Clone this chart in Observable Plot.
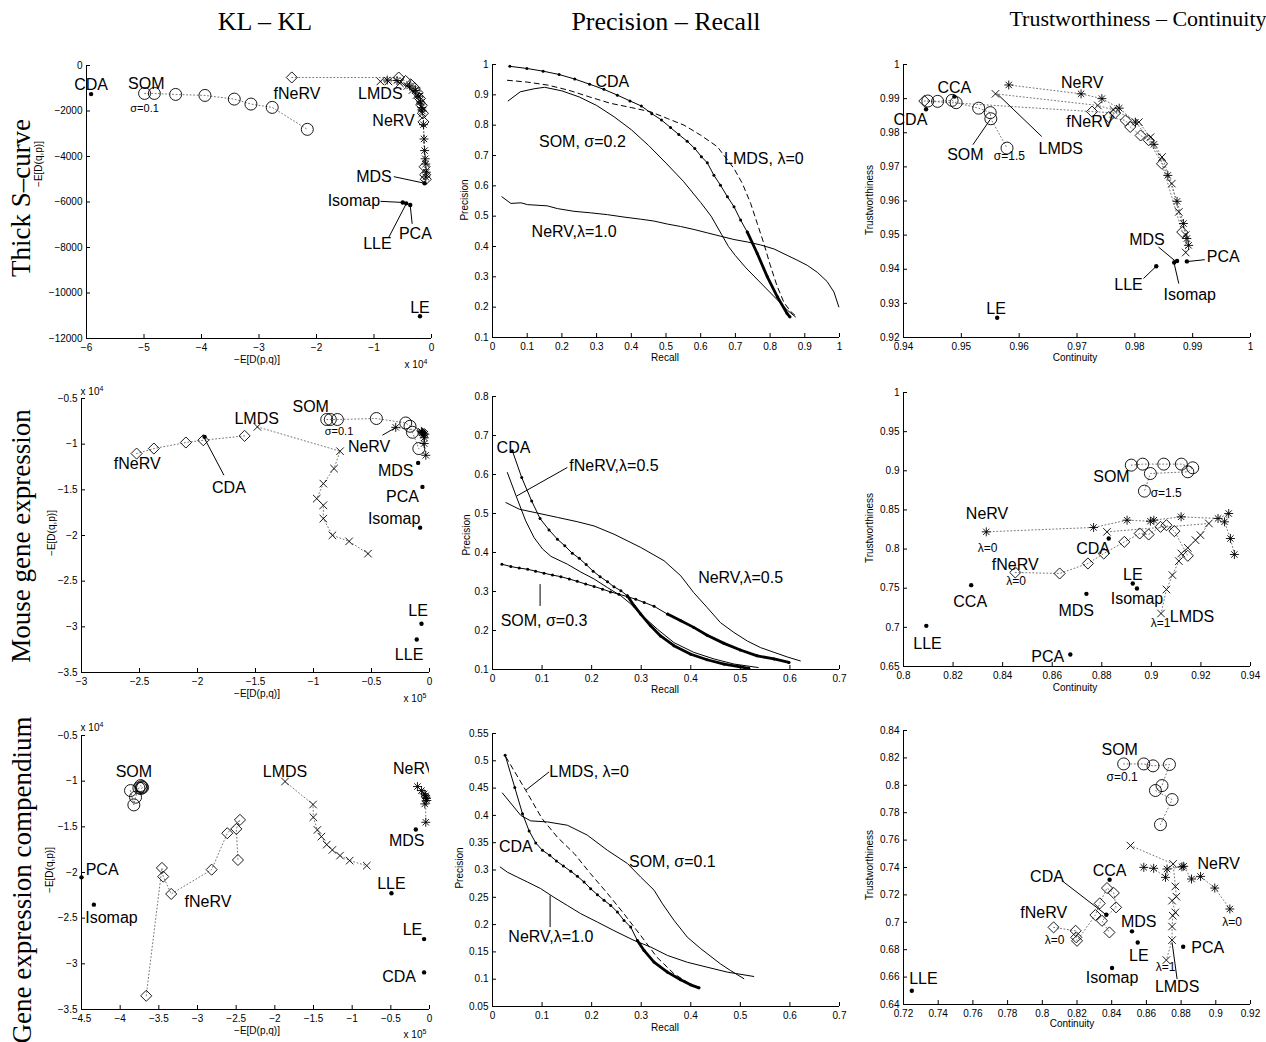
<!DOCTYPE html>
<html><head><meta charset="utf-8">
<script src="https://cdn.jsdelivr.net/npm/d3@7"></script>
<script src="https://cdn.jsdelivr.net/npm/@observablehq/plot@0.6"></script>
<style>
body{margin:0;background:#fff;}
#root{position:relative;width:1266px;height:1042px;overflow:hidden;background:#fff;font-family:"Liberation Sans",Arial,Helvetica,sans-serif;color:#000;}
.lbl{position:absolute;white-space:nowrap;line-height:1;}
.lbl sup{font-size:0.7em;vertical-align:0.5em;}
</style></head>
<body><div id="root"></div>
<script>
// ---------- column / row titles ----------
const columnTitles = ["KL \u2013 KL", "Precision \u2013 Recall", "Trustworthiness \u2013 Continuity"];
const rowTitles = ["Thick S\u2013curve", "Mouse gene expression", "Gene expression compendium"];

// ---------- Row 1: Thick S-curve ----------
const kl1_xTicks = [-6, -5, -4, -3, -2, -1, 0];
const kl1_yTicks = [-12000, -10000, -8000, -6000, -4000, -2000, 0];
const kl1_SOM = [[-4.99,-1228],[-4.82,-1228],[-4.45,-1272],[-3.94,-1316],[-3.43,-1477],[-3.14,-1696],[-2.77,-1842],[-2.16,-2807]];
const kl1_fNeRV = [[-2.43,-526],[-0.57,-530],[-0.45,-680],[-0.36,-830],[-0.29,-1000],[-0.24,-1200],[-0.2,-1450],[-0.17,-1750],[-0.15,-2100],[-0.14,-2480],[-0.12,-4450],[-0.11,-4800],[-0.1,-5000]];
const kl1_NeRV = [[-0.77,-640],[-0.6,-660],[-0.38,-900],[-0.28,-1100],[-0.22,-1350],[-0.19,-1600],[-0.17,-1850],[-0.16,-2000],[-0.14,-2600],[-0.13,-3230],[-0.12,-3740],[-0.11,-4100],[-0.1,-4330],[-0.09,-4690],[-0.1,-4900]];
const kl1_LMDS = [[-0.89,-700],[-0.75,-700],[-0.55,-780],[-0.42,-900],[-0.33,-1080],[-0.26,-1300],[-0.21,-1550],[-0.18,-1800],[-0.16,-2100]];
const kl1_single = [["CDA",-5.92,-1257],["MDS",-0.12,-5175],["Isomap",-0.50,-6020],["LLE",-0.44,-6060],["PCA",-0.37,-6130],["LE",-0.2,-11020]];
const kl1_labels = [["CDA",-5.92,-860],["SOM",-4.96,-817],["fNeRV",-2.34,-1229],["LMDS",-0.89,-1229],["NeRV",-0.66,-2428],["MDS",-1.0,-4886],["Isomap",-1.35,-5970],["LLE",-0.94,-7840],["PCA",-0.28,-7401],["LE",-0.2,-10667]];
const kl1_small = [["\u03c3=0.1",-4.99,-1870]];
const kl1_leaders = [[-0.656,-4886,-0.12,-5175],[-0.887,-5970,-0.5,-6020],[-0.742,-7550,-0.44,-6080],[-0.336,-6962,-0.37,-6150]];

const pr1_xTicks = [0,0.1,0.2,0.3,0.4,0.5,0.6,0.7,0.8,0.9,1];
const pr1_yTicks = [0.1,0.2,0.3,0.4,0.5,0.6,0.7,0.8,0.9,1];
const pr1_CDA = [[0.050,0.994],[0.099,0.987],[0.146,0.978],[0.192,0.967],[0.237,0.952],[0.280,0.935],[0.321,0.918],[0.360,0.899],[0.396,0.880],[0.429,0.863],[0.459,0.838],[0.487,0.817],[0.513,0.792],[0.537,0.769],[0.561,0.747],[0.583,0.723],[0.602,0.696],[0.619,0.676],[0.638,0.635],[0.657,0.602],[0.677,0.564],[0.696,0.531],[0.715,0.487],[0.734,0.448],[0.763,0.377],[0.792,0.300],[0.821,0.234],[0.849,0.179],[0.857,0.168]];
const pr1_LMDS = [[0.043,0.948],[0.10,0.942],[0.16,0.932],[0.22,0.915],[0.28,0.893],[0.34,0.872],[0.40,0.858],[0.456,0.844],[0.504,0.822],[0.552,0.80],[0.60,0.767],[0.648,0.729],[0.696,0.657],[0.72,0.608],[0.744,0.542],[0.763,0.476],[0.782,0.41],[0.80,0.34],[0.82,0.27],[0.84,0.215],[0.86,0.185],[0.875,0.17]];
const pr1_SOM = [[0.045,0.88],[0.08,0.91],[0.12,0.92],[0.15,0.925],[0.20,0.913],[0.25,0.893],[0.30,0.865],[0.35,0.828],[0.40,0.785],[0.45,0.733],[0.50,0.675],[0.55,0.615],[0.60,0.545],[0.63,0.50],[0.66,0.44],[0.68,0.40],[0.70,0.37],[0.73,0.33],[0.79,0.26],[0.85,0.19],[0.873,0.168]];
const pr1_NeRV = [[0.027,0.564],[0.053,0.542],[0.082,0.544],[0.101,0.538],[0.158,0.534],[0.187,0.525],[0.235,0.516],[0.283,0.511],[0.331,0.505],[0.379,0.497],[0.427,0.49],[0.465,0.484],[0.504,0.474],[0.542,0.466],[0.581,0.456],[0.619,0.445],[0.657,0.434],[0.696,0.423],[0.734,0.415],[0.773,0.405],[0.811,0.392],[0.849,0.371],[0.878,0.355],[0.907,0.338],[0.936,0.315],[0.964,0.285],[0.984,0.25],[0.998,0.201]];
const pr1_labels = [["CDA",0.3455,0.9426],["SOM, \u03c3=0.2",0.259,0.745],["LMDS, \u03bb=0",0.782,0.690],["NeRV,\u03bb=1.0",0.235,0.448]];

const tc1_xTicks = [0.94,0.95,0.96,0.97,0.98,0.99,1];
const tc1_yTicks = [0.92,0.93,0.94,0.95,0.96,0.97,0.98,0.99,1];
const tc1_SOM = [[0.9442,0.9893],[0.9459,0.9892],[0.9484,0.9895],[0.9491,0.9888],[0.9530,0.9872],[0.9550,0.9859],[0.9551,0.9841],[0.9579,0.9755]];
const tc1_fNeRV = [[0.9436,0.9893],[0.9726,0.9862],[0.9766,0.9858],[0.9755,0.9846],[0.9784,0.9836],[0.9792,0.9817],[0.9810,0.9792],[0.9824,0.9778],[0.9847,0.9709],[0.9882,0.9509]];
const tc1_NeRV = [[0.9582,0.9940],[0.9707,0.9914],[0.9743,0.9900],[0.9773,0.9872],[0.9801,0.9831],[0.9833,0.9766],[0.9857,0.9675],[0.9873,0.9599],[0.9884,0.9534],[0.9890,0.9490],[0.9893,0.9470]];
const tc1_LMDS = [[0.9559,0.9914],[0.9736,0.9880],[0.9763,0.9867],[0.9807,0.9831],[0.9827,0.9787],[0.9847,0.9729],[0.9864,0.9651],[0.9876,0.9568],[0.9888,0.9500],[0.9888,0.9449]];
const tc1_single = [["CDA",0.9439,0.9869],["CCA",0.9488,0.9906],["MDS",0.9873,0.9424],["Isomap",0.9868,0.9420],["PCA",0.9890,0.9423],["LLE",0.9837,0.9409],["LE",0.9562,0.9258]];
const tc1_labels = [["CDA",0.9412,0.9838],["CCA",0.9488,0.9932],["SOM",0.9507,0.9734],["LMDS",0.9672,0.9753],["NeRV",0.9709,0.9945],["fNeRV",0.9722,0.9831],["MDS",0.9821,0.9487],["PCA",0.9953,0.9436],["LLE",0.9789,0.9353],["Isomap",0.9895,0.9324],["LE",0.9560,0.9285]];
const tc1_small = [["\u03c3=1.5",0.9583,0.9731]];
const tc1_leaders = [[0.9520,0.9765,0.9550,0.9839],[0.9639,0.9789,0.9562,0.9914],[0.9841,0.9465,0.9870,0.9424],[0.9921,0.9428,0.9893,0.9423],[0.9815,0.9373,0.9836,0.9407],[0.9876,0.9358,0.9868,0.9417]];

// ---------- Row 2: Mouse gene expression ----------
const kl2_xTicks = [-3,-2.5,-2,-1.5,-1,-0.5,0];
const kl2_yTicks = [-3.5,-3,-2.5,-2,-1.5,-1,-0.5];
const kl2_fNeRV = [[-2.525,-1.103],[-2.376,-1.048],[-2.10,-0.982],[-1.95,-0.957],[-1.594,-0.909]];
const kl2_LMDS = [[-1.484,-0.811],[-0.771,-1.077],[-0.823,-1.267],[-0.915,-1.432],[-0.972,-1.596],[-0.915,-1.669],[-0.915,-1.815],[-0.837,-1.998],[-0.693,-2.064],[-0.530,-2.199]];
const kl2_SOM = [[-0.886,-0.730],[-0.855,-0.730],[-0.794,-0.730],[-0.458,-0.719],[-0.205,-0.768],[-0.168,-0.804],[-0.147,-0.870],[-0.092,-1.048]];
const kl2_NeRV = [[-0.291,-0.816],[-0.07,-0.86],[-0.06,-0.87],[-0.065,-0.875],[-0.05,-0.88],[-0.04,-0.89],[-0.05,-0.90],[-0.045,-0.93],[-0.046,-0.993],[-0.032,-1.122]];
const kl2_single = [["CDA",-1.939,-0.920],["MDS",-0.098,-1.205],["PCA",-0.061,-1.468],["Isomap",-0.081,-1.914],["LE",-0.069,-2.966],["LLE",-0.11,-3.138]];
const kl2_labels = [["fNeRV",-2.52,-1.22],["CDA",-1.729,-1.479],["LMDS",-1.49,-0.719],["SOM",-1.024,-0.591],["NeRV",-0.521,-1.030],["MDS",-0.291,-1.297],["PCA",-0.233,-1.578],["Isomap",-0.305,-1.823],["LE",-0.098,-2.820],["LLE",-0.176,-3.306]];
const kl2_small = [["\u03c3=0.1",-0.78,-0.865]];
const kl2_leaders = [[-1.772,-1.340,-1.939,-0.938],[-0.406,-0.902,-0.291,-0.818]];

const pr2_xTicks = [0,0.1,0.2,0.3,0.4,0.5,0.6,0.7];
const pr2_yTicks = [0.1,0.2,0.3,0.4,0.5,0.6,0.7,0.8];
const pr2_CDA = [[0.040,0.661],[0.059,0.592],[0.079,0.532],[0.096,0.487],[0.114,0.458],[0.131,0.434],[0.146,0.417],[0.161,0.398],[0.175,0.385],[0.189,0.369],[0.203,0.352],[0.217,0.338],[0.232,0.325],[0.245,0.312],[0.259,0.302],[0.272,0.289],[0.286,0.263],[0.299,0.242],[0.319,0.212],[0.339,0.186],[0.366,0.161],[0.400,0.139],[0.433,0.125],[0.467,0.114],[0.500,0.107],[0.517,0.103]];
const pr2_fNeRV = [[0.030,0.605],[0.050,0.537],[0.067,0.481],[0.084,0.438],[0.101,0.409],[0.118,0.390],[0.151,0.370],[0.178,0.350],[0.205,0.332],[0.232,0.310],[0.259,0.289],[0.279,0.268],[0.299,0.242],[0.333,0.203],[0.366,0.169],[0.406,0.144],[0.447,0.127],[0.487,0.114],[0.536,0.105]];
const pr2_NeRV = [[0.027,0.528],[0.054,0.511],[0.091,0.501],[0.131,0.490],[0.171,0.479],[0.205,0.468],[0.245,0.447],[0.299,0.413],[0.346,0.379],[0.380,0.340],[0.406,0.297],[0.433,0.259],[0.460,0.220],[0.487,0.195],[0.514,0.173],[0.541,0.156],[0.568,0.144],[0.595,0.132],[0.621,0.122]];
const pr2_SOM = [[0.019,0.370],[0.037,0.364],[0.054,0.360],[0.071,0.357],[0.087,0.352],[0.104,0.347],[0.121,0.342],[0.138,0.338],[0.155,0.332],[0.171,0.326],[0.188,0.319],[0.205,0.313],[0.222,0.306],[0.238,0.299],[0.255,0.293],[0.272,0.287],[0.289,0.280],[0.306,0.272],[0.326,0.262],[0.353,0.242],[0.380,0.225],[0.406,0.208],[0.433,0.188],[0.467,0.167],[0.500,0.150],[0.534,0.135],[0.568,0.127],[0.598,0.118]];
const pr2_labels = [["CDA",0.0423,0.669],["fNeRV,\u03bb=0.5",0.245,0.622],["NeRV,\u03bb=0.5",0.5005,0.336],["SOM, \u03c3=0.3",0.104,0.225]];
const pr2_leaders = [[0.151,0.618,0.049,0.545],[0.096,0.319,0.096,0.263]];

const tc2_xTicks = [0.8,0.82,0.84,0.86,0.88,0.9,0.92,0.94];
const tc2_yTicks = [0.65,0.7,0.75,0.8,0.85,0.9,0.95,1];
const tc2_SOM = [[0.8919,0.9072],[0.8965,0.9085],[0.9050,0.9085],[0.9121,0.9085],[0.9167,0.9038],[0.9147,0.8987],[0.8996,0.8965],[0.8972,0.8740]];
const tc2_NeRV = [[0.8334,0.822],[0.8767,0.8276],[0.8902,0.8369],[0.8996,0.8356],[0.9010,0.8369],[0.9120,0.8412],[0.9269,0.8391],[0.9312,0.8454],[0.9295,0.8348],[0.9319,0.8135],[0.9335,0.7931]];
const tc2_fNeRV = [[0.8451,0.7701],[0.8630,0.7688],[0.8744,0.7816],[0.8808,0.7943],[0.8891,0.8092],[0.8953,0.8199],[0.8989,0.8186],[0.9037,0.8284],[0.9061,0.8305],[0.9093,0.8229],[0.9147,0.7914]];
const tc2_LMDS = [[0.8821,0.822],[0.9232,0.8327],[0.9198,0.8178],[0.9178,0.8114],[0.9147,0.8016],[0.9121,0.7944],[0.9111,0.7846],[0.9085,0.7667],[0.9061,0.7484],[0.9039,0.7177]];
const tc2_single = [["CDA",0.8828,0.8135],["LE",0.8925,0.7560],["Isomap",0.8942,0.7496],["MDS",0.8738,0.7428],["CCA",0.8273,0.7539],["LLE",0.8092,0.7019],["PCA",0.8673,0.6653]];
const tc2_labels = [["SOM",0.8839,0.8923],["NeRV",0.8337,0.8454],["CDA",0.8765,0.8007],["fNeRV",0.8451,0.7803],["LE",0.8925,0.7675],["Isomap",0.8942,0.7369],["MDS",0.8697,0.7207],["CCA",0.8269,0.7326],["LLE",0.8097,0.6794],["PCA",0.8582,0.6619],["LMDS",0.9164,0.7134]];
const tc2_small = [["\u03c3=1.5",0.9060,0.8710],["\u03bb=0",0.8339,0.8007],["\u03bb=0",0.8454,0.7590],["\u03bb=1",0.9037,0.7049]];

// ---------- Row 3: Gene expression compendium ----------
const kl3_xTicks = [-4.5,-4,-3.5,-3,-2.5,-2,-1.5,-1,-0.5,0];
const kl3_yTicks = [-3.5,-3,-2.5,-2,-1.5,-1,-0.5];
const kl3_SOM = [[-3.866,-1.103],[-3.823,-1.260],[-3.801,-1.176],[-3.758,-1.074],[-3.736,-1.048],[-3.72,-1.06],[-3.71,-1.07],[-3.73,-1.08]];
const kl3_fNeRV = [[-3.663,-3.350],[-3.46,-1.95],[-3.443,-2.045],[-3.34,-2.235],[-2.817,-1.969],[-2.615,-1.570],[-2.451,-1.424],[-2.498,-1.523],[-2.477,-1.863]];
const kl3_LMDS = [[-1.868,-1.004],[-1.506,-1.256],[-1.502,-1.395],[-1.45,-1.534],[-1.398,-1.607],[-1.329,-1.695],[-1.256,-1.753],[-1.157,-1.815],[-1.032,-1.870],[-0.811,-1.925]];
const kl3_NeRV = [[-0.156,-1.059],[-0.104,-1.103],[-0.070,-1.139],[-0.048,-1.176],[-0.035,-1.212],[-0.061,-1.249],[-0.04,-1.19],[-0.05,-1.16],[-0.048,-1.450]];
const kl3_single = [["PCA",-4.5,-2.053],["Isomap",-4.34,-2.352],["MDS",-0.177,-1.530],["LLE",-0.492,-2.228],["LE",-0.070,-2.729],["CDA",-0.070,-3.094]];
const kl3_labels = [["SOM",-3.823,-0.902],["LMDS",-1.868,-0.902],["PCA",-4.233,-1.972],["Isomap",-4.112,-2.499],["fNeRV",-2.865,-2.327],["MDS",-0.294,-1.658],["LLE",-0.492,-2.126],["LE",-0.220,-2.630],["CDA",-0.393,-3.142]];
const kl3_clipped = [["NeRV",-0.199,-0.865]];

const pr3_xTicks = [0,0.1,0.2,0.3,0.4,0.5,0.6,0.7];
const pr3_yTicks = [0.05,0.1,0.15,0.2,0.25,0.3,0.35,0.4,0.45,0.5,0.55];
const pr3_CDA = [[0.0255,0.5103],[0.045,0.451],[0.0605,0.403],[0.0739,0.3715],[0.0873,0.3495],[0.1008,0.336],[0.1155,0.3269],[0.129,0.3165],[0.143,0.3073],[0.158,0.2976],[0.1713,0.2884],[0.1847,0.278],[0.198,0.2658],[0.2116,0.2548],[0.225,0.2444],[0.2385,0.2352],[0.2519,0.223],[0.2653,0.2077],[0.2788,0.1955],[0.2922,0.171],[0.3057,0.1527],[0.3258,0.1313],[0.3527,0.113],[0.3795,0.0989],[0.3997,0.0897],[0.4165,0.0842]];
const pr3_LMDS = [[0.027,0.507],[0.067,0.446],[0.1,0.394],[0.131,0.36],[0.165,0.33],[0.198,0.293],[0.232,0.257],[0.265,0.22],[0.299,0.18],[0.332,0.14],[0.366,0.11],[0.406,0.087]];
const pr3_SOM = [[0.020,0.441],[0.057,0.400],[0.077,0.390],[0.111,0.388],[0.151,0.382],[0.191,0.364],[0.232,0.336],[0.272,0.312],[0.299,0.287],[0.326,0.263],[0.343,0.238],[0.366,0.208],[0.393,0.177],[0.420,0.156],[0.460,0.128],[0.480,0.116],[0.507,0.101]];
const pr3_NeRV = [[0.0155,0.3055],[0.030,0.296],[0.050,0.287],[0.0705,0.278],[0.097,0.266],[0.124,0.250],[0.151,0.235],[0.178,0.220],[0.2116,0.2046],[0.245,0.189],[0.2855,0.171],[0.319,0.159],[0.353,0.1435],[0.393,0.131],[0.433,0.122],[0.4736,0.113],[0.527,0.105]];
const pr3_labels = [["LMDS, \u03bb=0",0.1948,0.4797],["CDA",0.047,0.3422],["SOM, \u03c3=0.1",0.3628,0.3147],["NeRV,\u03bb=1.0",0.1176,0.1771]];
const pr3_leaders = [[0.1142,0.4797,0.0672,0.4461],[0.1162,0.2535,0.1162,0.1955]];

const tc3_xTicks = [0.72,0.74,0.76,0.78,0.8,0.82,0.84,0.86,0.88,0.9,0.92];
const tc3_yTicks = [0.64,0.66,0.68,0.7,0.72,0.74,0.76,0.78,0.8,0.82,0.84];
const tc3_SOM = [[0.8469,0.8156],[0.8585,0.8156],[0.8638,0.8142],[0.8733,0.8152],[0.8690,0.7998],[0.8652,0.7962],[0.8748,0.7896],[0.8681,0.7713]];
const tc3_NeRV = [[0.9081,0.7097],[0.8994,0.725],[0.8912,0.7335],[0.8860,0.7316],[0.8815,0.7409],[0.8805,0.7405],[0.8719,0.7389],[0.8710,0.7328],[0.8642,0.7394],[0.8585,0.7401]];
const tc3_LMDS = [[0.8508,0.756],[0.8754,0.7426],[0.8767,0.7262],[0.8773,0.7187],[0.8748,0.7158],[0.8767,0.7072],[0.8752,0.7048],[0.8748,0.6969],[0.8748,0.6870],[0.8715,0.6724]];
const tc3_fNeRV = [[0.8065,0.6963],[0.8192,0.6938],[0.8196,0.6890],[0.8200,0.6865],[0.8306,0.7053],[0.8331,0.7138],[0.8373,0.7250],[0.8412,0.7214],[0.8425,0.7109],[0.8344,0.7011],[0.8387,0.6926]];
const tc3_single = [["CCA",0.8388,0.7311],["CDA",0.8369,0.7055],["MDS",0.8517,0.6934],["LE",0.8550,0.6853],["Isomap",0.8402,0.6666],["PCA",0.8812,0.6821],["LLE",0.7248,0.6500]];
const tc3_labels = [["SOM",0.8446,0.8259],["NeRV",0.9017,0.7426],["CCA",0.8388,0.7372],["CDA",0.8027,0.7335],["fNeRV",0.8008,0.7072],["MDS",0.8556,0.7004],["LE",0.8556,0.6756],["Isomap",0.8402,0.6592],["PCA",0.8954,0.6812],["LLE",0.7315,0.6585],["LMDS",0.8777,0.6529]];
const tc3_small = [["\u03c3=0.1",0.846,0.8059],["\u03bb=0",0.9094,0.6999],["\u03bb=0",0.8071,0.6870],["\u03bb=1",0.8710,0.6670]];
const tc3_leaders = [[0.8113,0.7304,0.8363,0.7060],[0.8748,0.6853,0.8777,0.6585]];

// ---------- helpers ----------
const FONT = '"Liberation Sans", Arial, Helvetica, sans-serif';
const SERIF = '"Liberation Serif", "Times New Roman", Times, serif';
const root = document.getElementById("root");
const fmt = d => (d < 0 ? "\u2212" : "") + String(Math.abs(d));
const P = a => a.map(([x, y]) => ({x, y}));
const dotted = a => Plot.line(P(a), {x: "x", y: "y", stroke: "#777", strokeWidth: 1, strokeDasharray: "1,2.5"});
const circles = a => Plot.dot(P(a), {x: "x", y: "y", r: 6, stroke: "black", strokeWidth: 0.9, fill: "none"});
const diamonds = a => Plot.dot(P(a), {x: "x", y: "y", symbol: "diamond2", r: 5, stroke: "black", strokeWidth: 0.9, fill: "none"});
const crosses = a => Plot.dot(P(a), {x: "x", y: "y", symbol: "times", r: 3.5, stroke: "black", strokeWidth: 0.9});
const stars = a => [
  Plot.dot(P(a), {x: "x", y: "y", symbol: "plus", r: 3, stroke: "black", strokeWidth: 0.9}),
  Plot.dot(P(a), {x: "x", y: "y", symbol: "times", r: 3, stroke: "black", strokeWidth: 0.9})
];
const singles = a => Plot.dot(a, {x: d => d[1], y: d => d[2], r: 2.2, fill: "black"});
const texts = (a, size = 16, extra = {}) => Plot.text(a, {x: d => d[1], y: d => d[2], text: d => d[0], fontSize: size, fill: "black", ...extra});
const leaders = a => Plot.link(a, {x1: d => d[0], y1: d => d[1], x2: d => d[2], y2: d => d[3], stroke: "black", strokeWidth: 1});
const curve = (a, opts = {}) => Plot.line(P(a), {x: "x", y: "y", stroke: "black", strokeWidth: 1, ...opts});
const dottedCurve = (a, from) => [
  curve(a),
  curve(a.filter(d => d[0] >= from), {strokeWidth: 2.8}),
  Plot.dot(P(a), {x: "x", y: "y", r: 1.5, fill: "black"})
];

function panel(box, xTicks, yTicks, marks) {
  const [L, R, T, B] = box;
  const ml = 60, mr = 16, mt = 12, mb = 24;
  const xDomain = [xTicks[0], xTicks[xTicks.length - 1]];
  const yDomain = [yTicks[0], yTicks[yTicks.length - 1]];
  const chart = Plot.plot({
    width: R - L + ml + mr, height: B - T + mt + mb,
    marginLeft: ml, marginRight: mr, marginTop: mt, marginBottom: mb,
    style: {fontFamily: FONT, fontSize: "10px", background: "transparent", overflow: "visible"},
    x: {domain: xDomain, ticks: xTicks, tickFormat: fmt, tickSize: -4, tickPadding: 9, label: null},
    y: {domain: yDomain, ticks: yTicks, tickFormat: fmt, tickSize: -4, tickPadding: 8, label: null},
    marks: [Plot.ruleX([xDomain[0]]), Plot.ruleY([yDomain[0]]), ...marks.flat()]
  });
  chart.style.position = "absolute";
  chart.style.left = (L - ml) + "px";
  chart.style.top = (T - mt) + "px";
  root.appendChild(chart);
}

function label(html, x, y, size = 10, rotate = 0, family = FONT) {
  const d = document.createElement("div");
  d.className = "lbl";
  d.innerHTML = html;
  d.style.left = x + "px";
  d.style.top = y + "px";
  d.style.fontSize = size + "px";
  d.style.fontFamily = family;
  d.style.transform = `translate(-50%,-50%) rotate(${rotate}deg)`;
  root.appendChild(d);
}

// ---------- Row 1 ----------
panel([86, 431, 65, 338], kl1_xTicks, kl1_yTicks, [
  dotted(kl1_SOM), dotted(kl1_fNeRV), dotted(kl1_NeRV), dotted(kl1_LMDS),
  circles(kl1_SOM), diamonds(kl1_fNeRV), crosses(kl1_LMDS), stars(kl1_NeRV),
  singles(kl1_single), leaders(kl1_leaders), texts(kl1_labels), texts(kl1_small, 11)
]);
panel([492, 839, 64, 337], pr1_xTicks, pr1_yTicks, [
  curve(pr1_NeRV), curve(pr1_SOM), curve(pr1_LMDS, {strokeDasharray: "5,4"}),
  dottedCurve(pr1_CDA, 0.73), texts(pr1_labels)
]);
panel([903, 1250, 64, 337], tc1_xTicks, tc1_yTicks, [
  dotted(tc1_SOM), dotted(tc1_fNeRV), dotted(tc1_NeRV), dotted(tc1_LMDS),
  circles(tc1_SOM), diamonds(tc1_fNeRV), crosses(tc1_LMDS), stars(tc1_NeRV),
  singles(tc1_single), leaders(tc1_leaders), texts(tc1_labels), texts(tc1_small, 12)
]);

// ---------- Row 2 ----------
panel([81, 429, 398, 672], kl2_xTicks, kl2_yTicks, [
  dotted(kl2_SOM), dotted(kl2_fNeRV), dotted(kl2_NeRV), dotted(kl2_LMDS),
  circles(kl2_SOM), diamonds(kl2_fNeRV), crosses(kl2_LMDS), stars(kl2_NeRV),
  singles(kl2_single), leaders(kl2_leaders), texts(kl2_labels), texts(kl2_small, 11)
]);
panel([492, 839, 396, 669], pr2_xTicks, pr2_yTicks, [
  curve(pr2_NeRV), curve(pr2_fNeRV),
  dottedCurve(pr2_SOM, 0.33), dottedCurve(pr2_CDA, 0.27),
  leaders(pr2_leaders), texts(pr2_labels)
]);
panel([903, 1250, 392, 666], tc2_xTicks, tc2_yTicks, [
  dotted(tc2_SOM), dotted(tc2_fNeRV), dotted(tc2_NeRV), dotted(tc2_LMDS),
  circles(tc2_SOM), diamonds(tc2_fNeRV), crosses(tc2_LMDS), stars(tc2_NeRV),
  singles(tc2_single), texts(tc2_labels), texts(tc2_small, 12)
]);

// ---------- Row 3 ----------
panel([81, 429, 735, 1009], kl3_xTicks, kl3_yTicks, [
  dotted(kl3_SOM), dotted(kl3_fNeRV), dotted(kl3_NeRV), dotted(kl3_LMDS),
  circles(kl3_SOM), diamonds(kl3_fNeRV), crosses(kl3_LMDS), stars(kl3_NeRV),
  singles(kl3_single), texts(kl3_labels), texts(kl3_clipped, 16, {clip: true})
]);
panel([492, 839, 733, 1006], pr3_xTicks, pr3_yTicks, [
  curve(pr3_NeRV), curve(pr3_SOM), curve(pr3_LMDS, {strokeDasharray: "5,4"}),
  dottedCurve(pr3_CDA, 0.28), leaders(pr3_leaders), texts(pr3_labels)
]);
panel([903, 1250, 730, 1004], tc3_xTicks, tc3_yTicks, [
  dotted(tc3_SOM), dotted(tc3_fNeRV), dotted(tc3_NeRV), dotted(tc3_LMDS),
  circles(tc3_SOM), diamonds(tc3_fNeRV), crosses(tc3_LMDS), stars(tc3_NeRV),
  singles(tc3_single), leaders(tc3_leaders), texts(tc3_labels), texts(tc3_small, 12)
]);

// ---------- titles, axis labels, exponents ----------
label(columnTitles[0], 265, 22, 26, 0, SERIF);
label(columnTitles[1], 666, 22, 26, 0, SERIF);
label(columnTitles[2], 1138, 19, 22, 0, SERIF);
label(rowTitles[0], 21, 198, 27, -90, SERIF);
label(rowTitles[1], 21, 536, 27, -90, SERIF);
label(rowTitles[2], 22, 880, 27, -90, SERIF);

const KLx = "\u2212E[D(p,q)]", KLy = "\u2212E[D(q,p)]";
label(KLx, 257, 360); label(KLy, 39, 164, 10, -90);
label(KLx, 257, 694); label(KLy, 52, 533, 10, -90);
label(KLx, 257, 1031); label(KLy, 50, 870, 10, -90);
label("Recall", 665, 358); label("Precision", 465, 200, 10, -90);
label("Recall", 665, 690); label("Precision", 467, 535, 10, -90);
label("Recall", 665, 1028); label("Precision", 460, 868, 10, -90);
label("Continuity", 1075, 358); label("Trustworthiness", 870, 200, 10, -90);
label("Continuity", 1075, 688); label("Trustworthiness", 870, 528, 10, -90);
label("Continuity", 1072, 1024); label("Trustworthiness", 870, 865, 10, -90);

label("x 10<sup>4</sup>", 416, 364);
label("x 10<sup>4</sup>", 92, 391);
label("x 10<sup>5</sup>", 415, 698);
label("x 10<sup>4</sup>", 92, 727);
label("x 10<sup>5</sup>", 415, 1034);
</script>
</body></html>
